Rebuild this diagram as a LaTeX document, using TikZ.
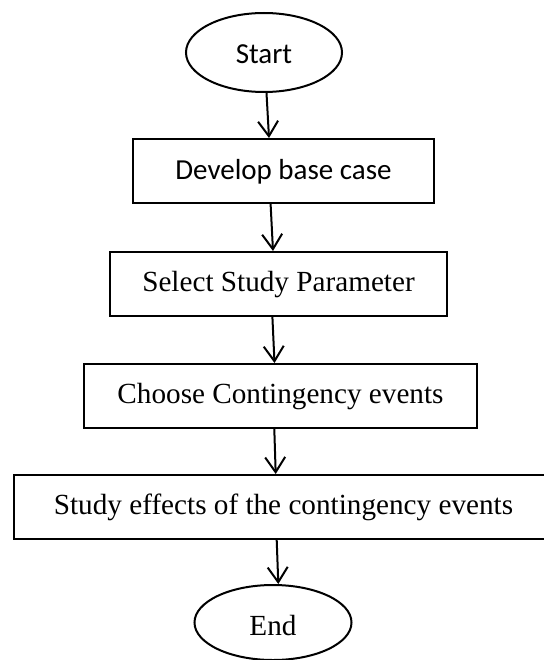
\documentclass[tikz,border=0pt]{standalone}
\usepackage{fontspec}
\setmainfont{Liberation Serif}
\newfontfamily\calibrifont{Carlito}
\usetikzlibrary{shapes.geometric,arrows.meta}
\begin{document}
\begin{tikzpicture}[x=1bp,y=-1bp,
  shape base/.style={draw, line width=2bp, inner sep=0pt,
    font=\fontsize{29.2bp}{34bp}\selectfont},
  stepbox/.style={shape base, rectangle, minimum height=64bp,
    text height=20bp, text depth=6bp},
  term/.style={shape base, ellipse, text height=22bp, text depth=0bp},
  flow/.style={line width=2bp, -{Straight Barb[length=15bp,width=20bp]}}]

  % page area
  \clip (0,0) rectangle (544,660);

  % terminals and process steps
  \node[term, minimum width=156bp, minimum height=79bp, font=\calibrifont\fontsize{29bp}{34bp}\selectfont]
    (start) at (264,52.5) {Start};
  \node[stepbox, minimum width=301bp, text height=20bp, text depth=4bp,
    font=\calibrifont\fontsize{29bp}{34bp}\selectfont]
    (b1) at (283.5,171) {Develop base case};
  \node[stepbox, minimum width=337bp] (b2) at (278.5,284) {Select Study Parameter};
  \node[stepbox, minimum width=393bp] (b3) at (280.5,396) {Choose Contingency events};
  \node[stepbox, minimum width=539bp] (b4) at (283.5,507) {Study effects of the contingency events};
  \node[term, minimum width=157bp, minimum height=75bp, text height=25bp]
    (end) at (273,622.5) {End};

  % connectors
  \draw[flow] ([xshift=2.5bp]start.south) -- ([xshift=-14.5bp]b1.north);
  \draw[flow] ([xshift=-12.9bp]b1.south) -- ([xshift=-5.5bp]b2.north);
  \draw[flow] ([xshift=-6.1bp]b2.south) -- ([xshift=-6bp]b3.north);
  \draw[flow] ([xshift=-6.2bp]b3.south) -- ([xshift=-7.8bp]b4.north);
  \draw[flow] ([xshift=-6.8bp]b4.south) -- ([xshift=5.3bp]end.north);
\end{tikzpicture}
\end{document}
